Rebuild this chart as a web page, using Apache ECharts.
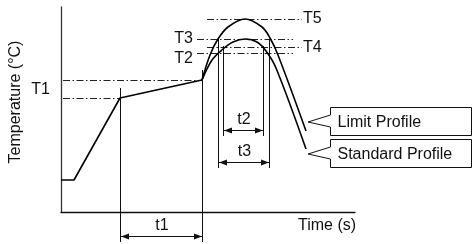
<!DOCTYPE html>
<html><head><meta charset="utf-8">
<script src="https://cdn.jsdelivr.net/npm/echarts@6/dist/echarts.min.js"></script>
<style>html,body{margin:0;padding:0;background:#fff}#c{width:473px;height:244px}</style>
</head><body><div id="c"></div>
<script>
// ---- Data (time / temperature in schematic units) ----
const preheat = [[0,32],[13,32],[59,114],[141,132]];
const limitProfile = [[141,132],[149,157],[157,173],[167,185],[184,193],[201,185],[209,174],[217,157],[245,81]];
const standardProfile = [[141,132],[151,152],[162,163],[172,170],[184,173],[196,170],[205,161],[215,144],[245,63]];

const levelNames  = ['', 'T1', 'T2', 'T3', 'T4', 'T5'];
const levelValues = [132, 114, 159.5, 173, 165.5, 193];
const levelFrom   = [2, 2, 136, 136, 146, 146];
const levelTo     = [141, 59, 232, 232, 241, 241];

const guideX      = [59, 141, 157, 162, 202, 208];
const guideTop    = [124, 142, 173, 166, 166, 173];
const guideBottom = [-30, -30, 44, 76, 76, 44];

const spanNames = ['t1', 't2', 't3'];
const spanFrom  = [59, 162, 157];
const spanTo    = [141, 202, 208];
const spanLevel = [-24, 82, 50];

const calloutNames = ['Limit Profile', 'Standard Profile'];
const calloutTips  = [[247, 90], [247, 58]];

// ---- Styling ----
const FONT = '"Liberation Sans", Arial, sans-serif';
const TXT = '#111';
const labelPlace = {
  T1: {side: 'left',  dx: -13, dy: -8},
  T2: {side: 'left',  dx: -4,  dy: 6},
  T3: {side: 'left',  dx: -4,  dy: 0},
  T4: {side: 'right', dx: 1,   dy: 1},
  T5: {side: 'right', dx: 1,   dy: 0}
};
const crisp = v => Math.round(v) + 0.5;

const chart = echarts.init(document.getElementById('c'), null, {renderer: 'canvas'});

const option = {
  animation: false,
  backgroundColor: '#fff',
  grid: {left: 61, top: 7, width: 294, height: 205, containLabel: false},
  xAxis: {
    type: 'value', min: 0, max: 294,
    axisLine: {show: true, onZero: false, lineStyle: {color: '#111', width: 1.3}},
    axisTick: {show: false}, axisLabel: {show: false}, splitLine: {show: false}
  },
  yAxis: {
    type: 'value', min: 0, max: 205,
    axisLine: {show: true, onZero: false, lineStyle: {color: '#333', width: 1.3}},
    axisTick: {show: false}, axisLabel: {show: false}, splitLine: {show: false}
  },
  graphic: [
    {type: 'text', x: 16, y: 102, rotation: Math.PI / 2,
     style: {text: 'Temperature (°C)', fill: TXT, font: '16px ' + FONT, align: 'center', verticalAlign: 'middle'}},
    {type: 'text', x: 298, y: 226,
     style: {text: 'Time (s)', fill: TXT, font: '16px ' + FONT, align: 'left', verticalAlign: 'middle'}}
  ],
  series: [
    {type: 'line', data: preheat, symbol: 'none', smooth: false,
     lineStyle: {color: '#000', width: 1.6}, z: 5},
    {type: 'line', name: 'Limit Profile', data: limitProfile, symbol: 'none', smooth: 0.35,
     lineStyle: {color: '#000', width: 1.6}, z: 5},
    {type: 'line', name: 'Standard Profile', data: standardProfile, symbol: 'none', smooth: 0.35,
     lineStyle: {color: '#000', width: 1.6}, z: 5},
    // dash-dot level lines
    {type: 'custom', data: levelValues.map((v, i) => [levelFrom[i], v]), silent: true, z: 3,
     renderItem: (params, api) => {
       const i = params.dataIndex;
       const a = api.coord([levelFrom[i], levelValues[i]]);
       const b = api.coord([levelTo[i], levelValues[i]]);
       const y = crisp(a[1]);
       const children = [{type: 'line', shape: {x1: a[0], y1: y, x2: b[0], y2: y},
         style: {stroke: '#222', lineWidth: 1, lineDash: [7, 2.5, 1.5, 2.5]}}];
       const name = levelNames[i];
       if (name) {
         const p = labelPlace[name];
         const left = p.side === 'left';
         children.push({type: 'text', x: (left ? a[0] : b[0]) + p.dx, y: a[1] + p.dy,
           style: {text: name, fill: TXT, font: '16px ' + FONT,
                   align: left ? 'right' : 'left', verticalAlign: 'middle'}});
       }
       return {type: 'group', children};
     }},
    // vertical guide lines
    {type: 'custom', data: guideX.map((x, i) => [x, guideTop[i]]), silent: true, z: 3,
     renderItem: (params, api) => {
       const i = params.dataIndex;
       const a = api.coord([guideX[i], guideTop[i]]);
       const b = api.coord([guideX[i], guideBottom[i]]);
       const x = crisp(a[0]);
       return {type: 'line', shape: {x1: x, y1: a[1], x2: x, y2: b[1]},
               style: {stroke: '#111', lineWidth: 1}};
     }},
    // dimension arrows
    {type: 'custom', data: spanFrom.map((x, i) => [x, spanLevel[i]]), silent: true, z: 4,
     renderItem: (params, api) => {
       const i = params.dataIndex;
       const a = api.coord([spanFrom[i], spanLevel[i]]);
       const b = api.coord([spanTo[i], spanLevel[i]]);
       const y = crisp(a[1]);
       const x1 = a[0] + 1, x2 = b[0];
       const L = 8, W = 3;
       return {type: 'group', children: [
         {type: 'line', shape: {x1: x1, y1: y, x2: x2, y2: y}, style: {stroke: '#111', lineWidth: 1}},
         {type: 'polygon', shape: {points: [[x1, y], [x1 + L, y - W], [x1 + L, y + W]]}, style: {fill: '#111'}},
         {type: 'polygon', shape: {points: [[x2, y], [x2 - L, y - W], [x2 - L, y + W]]}, style: {fill: '#111'}},
         {type: 'text', x: (a[0] + b[0]) / 2 + 1, y: a[1] - 10,
          style: {text: spanNames[i], fill: TXT, font: '16px ' + FONT, align: 'center', verticalAlign: 'middle'}}
       ]};
     }},
    // callouts
    {type: 'custom', data: calloutTips, silent: true, z: 4,
     renderItem: (params, api) => {
       const i = params.dataIndex;
       const t = api.coord(calloutTips[i]);
       const tx = t[0], ty = t[1];
       const L = crisp(tx + 22), R = 471.5, T = crisp(ty - 15), B = crisp(ty + 13);
       return {type: 'group', children: [
         {type: 'polygon', shape: {points: [[R, T], [L, T], [L, ty - 7], [tx, ty], [L, ty + 5], [L, B], [R, B]]},
          style: {fill: '#fff', stroke: '#111', lineWidth: 1}},
         {type: 'text', x: L + 7, y: (T + B) / 2 + 1,
          style: {text: calloutNames[i], fill: TXT, font: '16px ' + FONT, align: 'left', verticalAlign: 'middle'}}
       ]};
     }}
  ]
};
chart.setOption(option);
</script>
</body></html>
